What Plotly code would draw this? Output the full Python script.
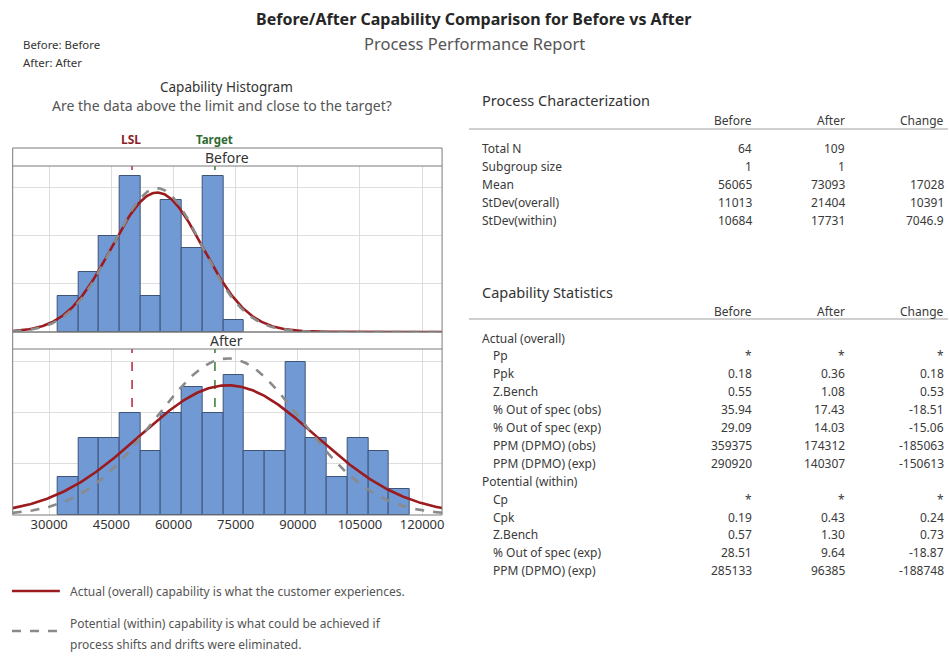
import numpy as np
import plotly.graph_objects as go

# ---- data ----
before_bins = [34500, 39500, 44500, 49500, 54500, 59500, 64500, 69500, 74500]
before_counts = [3, 5, 8, 13, 3, 11, 7, 13, 1]
after_bins = [34500, 39500, 44500, 49500, 54500, 59500, 64500, 69500, 74500,
              79500, 84500, 89500, 94500, 99500, 104500, 109500, 114500]
after_counts = [3, 6, 6, 8, 5, 8, 10, 8, 11, 5, 5, 12, 6, 3, 6, 5, 2]
bin_width = 5000
lsl = 50000
target = 70000

groups = ["Before", "After"]
n_total = [64, 109]
means = [56065, 73093]
sd_overall = [11013, 21404]
sd_within = [10684, 17731]

x_ticks = [30000, 45000, 60000, 75000, 90000, 105000, 120000]

pc_labels = ["Total N", "Subgroup size", "Mean", "StDev(overall)", "StDev(within)"]
pc_before = ["64", "1", "56065", "11013", "10684"]
pc_after = ["109", "1", "73093", "21404", "17731"]
pc_change = ["", "", "17028", "10391", "7046.9"]

cs_labels = ["Actual (overall)", "Pp", "Ppk", "Z.Bench", "% Out of spec (obs)",
             "% Out of spec (exp)", "PPM (DPMO) (obs)", "PPM (DPMO) (exp)",
             "Potential (within)", "Cp", "Cpk", "Z.Bench", "% Out of spec (exp)",
             "PPM (DPMO) (exp)"]
cs_indent = [0, 1, 1, 1, 1, 1, 1, 1, 0, 1, 1, 1, 1, 1]
cs_before = ["", "*", "0.18", "0.55", "35.94", "29.09", "359375", "290920",
             "", "*", "0.19", "0.57", "28.51", "285133"]
cs_after = ["", "*", "0.36", "1.08", "17.43", "14.03", "174312", "140307",
            "", "*", "0.43", "1.30", "9.64", "96385"]
cs_change = ["", "*", "0.18", "0.53", "-18.51", "-15.06", "-185063", "-150613",
             "", "*", "0.24", "0.73", "-18.87", "-188748"]

# ---- layout helpers (pixel -> paper) ----
W, H = 950, 664
FONT = "Noto Sans"
TXT = "#3a3a3a"
RED = "#9b1b1f"
GRAY = "#8a8a8a"
BLUE = "#7199d4"


def px(x):
    return x / W


def py(y):
    return 1 - y / H


X0, X1 = 12.7, 443
XR = [21190, 124810]

fig = go.Figure()

# histograms
fig.add_trace(go.Bar(x=before_bins, y=before_counts, width=bin_width,
                     marker=dict(color=BLUE, line=dict(color="#3d5478", width=1)),
                     xaxis="x", yaxis="y", showlegend=False))
fig.add_trace(go.Bar(x=after_bins, y=after_counts, width=bin_width,
                     marker=dict(color=BLUE, line=dict(color="#3d5478", width=1)),
                     xaxis="x2", yaxis="y2", showlegend=False))

# normal curves from the reported mean / stdev
xs = np.linspace(XR[0], XR[1], 400)
for i, (xa, ya) in enumerate([("x", "y"), ("x2", "y2")]):
    scale = n_total[i] * bin_width
    for sd, color, dash in [(sd_overall[i], RED, "solid"), (sd_within[i], GRAY, "dash")]:
        ys = scale / (sd * np.sqrt(2 * np.pi)) * np.exp(-0.5 * ((xs - means[i]) / sd) ** 2)
        fig.add_trace(go.Scatter(x=xs, y=ys, mode="lines", xaxis=xa, yaxis=ya,
                                 line=dict(color=color, width=2.6, dash=dash),
                                 showlegend=False, hoverinfo="skip"))

shapes = []
# LSL / target lines behind bars
for xa, ya, top in [("x", "y", 13.8), ("x2", "y2", 13.0)]:
    for v, c in [(lsl, "#b0243a"), (target, "#2f7a2f")]:
        shapes.append(dict(type="line", xref=xa, yref=ya, x0=v, x1=v, y0=0, y1=top,
                           line=dict(color=c, width=1.5, dash="dash"), layer="below"))

# panel frames and strips
for top, strip_bot, bot in [(148, 166, 332), (332, 349, 515)]:
    shapes.append(dict(type="rect", xref="paper", yref="paper", x0=px(X0), x1=px(X1),
                       y0=py(bot), y1=py(top), line=dict(color="#7a7a7a", width=1)))
    shapes.append(dict(type="line", xref="paper", yref="paper", x0=px(X0), x1=px(X1),
                       y0=py(strip_bot), y1=py(strip_bot), line=dict(color="#7a7a7a", width=1)))

# bottom legend lines
shapes.append(dict(type="line", xref="paper", yref="paper", x0=px(12), x1=px(60),
                   y0=py(591), y1=py(591), line=dict(color=RED, width=2.5)))
shapes.append(dict(type="line", xref="paper", yref="paper", x0=px(12), x1=px(60),
                   y0=py(631), y1=py(631), line=dict(color=GRAY, width=2.5, dash="dash")))

# table rules
for y in [129, 319]:
    shapes.append(dict(type="line", xref="paper", yref="paper", x0=px(470), x1=1,
                       y0=py(y), y1=py(y), line=dict(color="#a0a0a0", width=1)))

ann = []


def text(x, y, s, size=12, color=TXT, anchor="left", bold=False):
    ann.append(dict(x=px(x), y=py(y), xref="paper", yref="paper", showarrow=False,
                    text=f"<b>{s}</b>" if bold else s, xanchor=anchor, yanchor="middle",
                    borderpad=0, font=dict(family=FONT, size=size, color=color)))


text(475, 19, "Before/After Capability Comparison for Before vs After", 16, "#262626", "center", True)
text(476, 43, "Process Performance Report", 16.5, "#555555", "center")
text(22, 45, "Before: Before", 11.4, "#333333")
text(22, 62, "After: After", 11.4, "#333333")
text(227, 87, "Capability Histogram", 13.5, "#333333", "center")
text(222, 106, "Are the data above the limit and close to the target?", 14, "#555555", "center")
text(131, 140, "LSL", 12, "#8b1f2a", "center", True)
text(215, 140, "Target", 11.5, "#2f6b2f", "center", True)
text(227, 158, "Before", 14, "#333333", "center")
text(227, 341, "After", 14, "#333333", "center")

text(69, 591, "Actual (overall) capability is what the customer experiences.", 12, "#555555")
text(69, 623, "Potential (within) capability is what could be achieved if", 12, "#555555")
text(69, 644, "process shifts and drifts were eliminated.", 12, "#555555")

# Process Characterization table
text(482, 100, "Process Characterization", 14.5, "#333333")
text(755, 120, "Before", 12, TXT, "right")
text(848, 120, "After", 12, TXT, "right")
text(947, 120, "Change", 12, TXT, "right")
for i, lab in enumerate(pc_labels):
    y = 148 + i * 18
    text(482, y, lab)
    text(755, y, pc_before[i], anchor="right")
    text(848, y, pc_after[i], anchor="right")
    text(947, y, pc_change[i], anchor="right")

# Capability Statistics table
text(482, 292, "Capability Statistics", 14.5, "#333333")
text(755, 311, "Before", 12, TXT, "right")
text(848, 311, "After", 12, TXT, "right")
text(947, 311, "Change", 12, TXT, "right")
for i, lab in enumerate(cs_labels):
    y = 338 + i * 17.9
    text(482 + 11 * cs_indent[i], y, lab)
    text(755, y, cs_before[i], anchor="right")
    text(848, y, cs_after[i], anchor="right")
    text(947, y, cs_change[i], anchor="right")

grid = "#dedede"
xcommon = dict(range=XR, tickvals=x_ticks, tickformat="d", showgrid=True, gridcolor=grid,
               zeroline=False, showline=False, ticks="", fixedrange=True)
fig.update_layout(
    width=W, height=H, margin=dict(l=0, r=0, t=0, b=0),
    paper_bgcolor="white", plot_bgcolor="white",
    font=dict(family=FONT, color=TXT),
    bargap=0,
    xaxis=dict(domain=[px(X0), px(X1)], anchor="y", showticklabels=False, **xcommon),
    yaxis=dict(domain=[py(332), py(166)], anchor="x", range=[0, 13.8], dtick=4,
               showticklabels=False, gridcolor=grid, zeroline=False, showgrid=True),
    xaxis2=dict(domain=[px(X0), px(X1)], anchor="y2", showticklabels=True, matches="x",
                tickfont=dict(family=FONT, size=13, color="#333333"), **xcommon),
    yaxis2=dict(domain=[py(515), py(349)], anchor="x2", range=[0, 13.0], dtick=4,
                showticklabels=False, gridcolor=grid, zeroline=False, showgrid=True),
    shapes=shapes, annotations=ann,
)

fig.write_html("out.html", config={"displayModeBar": False},
               post_script="document.body.style.margin='0';")
